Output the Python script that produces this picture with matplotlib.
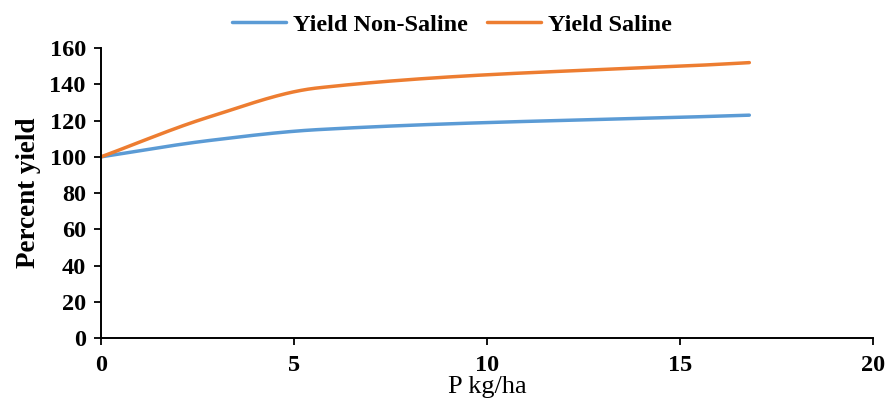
import numpy as np
import matplotlib
matplotlib.use("Agg")
import matplotlib.pyplot as plt

plt.rcParams["font.family"] = ["Liberation Serif", "DejaVu Serif"]

# values
p_rate = [0, 2.8, 5.6, 16.8]
yield_non_saline = [100, 109, 115, 123]
yield_saline = [100, 122, 138, 152]
x_ticks = [0, 5, 10, 15, 20]
y_ticks = [0, 20, 40, 60, 80, 100, 120, 140, 160]


def smooth_line(xs, ys, n=60):
    """Monotone cubic (PCHIP) curve through the points, like a smoothed line in a spreadsheet."""
    x = np.asarray(xs, float); y = np.asarray(ys, float)
    h = np.diff(x); d = np.diff(y) / h
    m = np.zeros_like(x)
    for k in range(1, len(x) - 1):
        if d[k - 1] * d[k] > 0:
            w1 = 2 * h[k] + h[k - 1]; w2 = h[k] + 2 * h[k - 1]
            m[k] = (w1 + w2) / (w1 / d[k - 1] + w2 / d[k])
    m[0] = d[0]; m[-1] = d[-1]
    out_x, out_y = [x[0]], [y[0]]
    for k in range(len(x) - 1):
        t = np.linspace(0, 1, n)[1:]
        h00 = 2 * t**3 - 3 * t**2 + 1; h10 = t**3 - 2 * t**2 + t
        h01 = -2 * t**3 + 3 * t**2; h11 = t**3 - t**2
        out_x.extend(x[k] + t * h[k])
        out_y.extend(h00 * y[k] + h10 * h[k] * m[k] + h01 * y[k + 1] + h11 * h[k] * m[k + 1])
    return np.array(out_x), np.array(out_y)


fig = plt.figure(figsize=(8.87, 4.01), dpi=100)
ax = fig.add_axes([0.1139, 0.157, 0.8701, 0.723])

sx, sy = smooth_line(p_rate, yield_non_saline)
ax.plot(sx, sy, color="#5B9BD5", lw=2.5, solid_capstyle="round", label="Yield Non-Saline")
sx, sy = smooth_line(p_rate, yield_saline)
ax.plot(sx, sy, color="#ED7D31", lw=2.5, solid_capstyle="round", label="Yield Saline")

ax.set_xlim(0, 20)
ax.set_ylim(0, 160)
ax.set_xticks(x_ticks)
ax.set_yticks(y_ticks)
ax.tick_params(direction="out", length=5, width=1.3, labelsize=17.5)
ax.tick_params(axis="y", pad=6)
ax.tick_params(axis="x", pad=7)
for lab in ax.get_xticklabels() + ax.get_yticklabels():
    lab.set_fontweight("bold")
for s in ("top", "right"):
    ax.spines[s].set_visible(False)
for s in ("left", "bottom"):
    ax.spines[s].set_linewidth(1.4)

ax.set_ylabel("Percent yield", fontsize=19.5, fontweight="bold", labelpad=6)
ax.set_xlabel("P kg/ha", fontsize=19, labelpad=0.5)

fig.legend(loc="upper center", bbox_to_anchor=(452 / 887, 1.02), ncol=2, frameon=False,
           prop={"size": 17.5, "weight": "bold"}, handlelength=2.2, columnspacing=0.8,
           handletextpad=0.3)

fig.savefig("out.png", dpi=100)
